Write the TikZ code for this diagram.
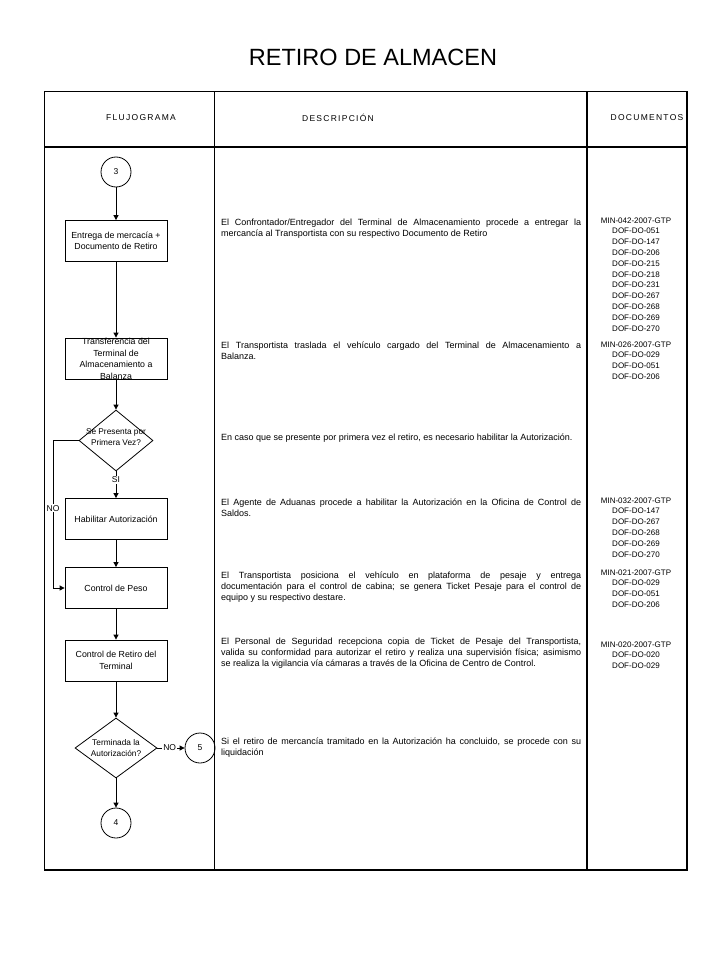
\documentclass[tikz,border=0pt]{standalone}
\usepackage{fontspec}
\setmainfont{Liberation Sans}
\newfontfamily\hdrfont[LetterSpace=15]{Liberation Sans}
\usetikzlibrary{arrows.meta,shapes.geometric}
\newcommand\jl[1]{\makebox[360pt][s]{#1}}
\begin{document}
\begin{tikzpicture}[x=1pt,y=-1pt,
  tbl/.style={line width=1.1pt},
  shp/.style={draw,line width=0.8pt},
  box/.style={shp,rectangle,minimum width=102pt,minimum height=41pt,inner sep=1pt,align=center,font=\fontsize{8.8}{11.6}\selectfont},
  boxtxt/.style={inner sep=0pt,align=center,font=\fontsize{8.8}{11.6}\selectfont},
  circ/.style={shp,circle,minimum size=30pt,inner sep=0pt,font=\fontsize{8.5}{10}\selectfont},
  dia/.style={shp,diamond,inner sep=0pt},
  diatxt/.style={inner sep=0pt,align=center,font=\fontsize{8.3}{11.5}\selectfont},
  arr/.style={line width=0.8pt,-{Triangle[length=5pt,width=5pt]}},
  lbl/.style={fill=white,inner sep=1pt,font=\fontsize{8.5}{10}\selectfont},
  hdr/.style={inner sep=0pt,font=\hdrfont\fontsize{8.5}{10}\selectfont},
  desc/.style={anchor=base west,inner sep=0pt,align=left,font=\fontsize{9}{11}\selectfont},
  docs/.style={anchor=base,inner sep=0pt,align=center,font=\fontsize{8}{10.8}\selectfont}
]
\useasboundingbox (0,0) rectangle (720,960);
\fill[white] (0,0) rectangle (720,960);

% title
\node[inner sep=0pt,font=\fontsize{23.5}{28}\selectfont] (title) at (373,57) {RETIRO DE ALMACEN};

% table
\draw[tbl] (44.5,91.5) rectangle (687,870);
\draw[tbl] (44.5,147) -- (687,147);
\draw[tbl] (214.5,91.5) -- (214.5,870);
\draw[tbl] (587,91.5) -- (587,870);

\node[hdr] (h1) at (141,118) {FLUJOGRAMA};
\node[hdr] (h2) at (338,118) {DESCRIPCIÓN};
\node[hdr] (h3) at (647,118) {DOCUMENTOS};

% flowchart
\node[circ] (c3) at (116,172) {3};
\node[box] (b1) at (116,241) {Entrega de mercacía +\\Documento de Retiro};
\node[box] (b2) at (116,358.5) {};
\node[boxtxt] (b2t) at (116,359) {Transferencia del\\Terminal de\\Almacenamiento a\\Balanza};
\node[dia,minimum width=74pt,minimum height=61pt] (d1) at (116,440.5) {};
\node[diatxt] (d1t) at (116,437) {Se Presenta por\\Primera Vez?};
\node[box] (b3) at (116,519) {Habilitar Autorización};
\node[box] (b4) at (116,588) {Control de Peso};
\node[box] (b5) at (116,660.5) {Control de Retiro del\\Terminal};
\node[dia,minimum width=82pt,minimum height=60pt] (d2) at (116,748) {};
\node[diatxt] (d2t) at (116,748) {Terminada la\\Autorización?};
\node[circ] (c5) at (200,748) {5};
\node[circ] (c4) at (116,823) {4};

\coordinate (n1) at (53,440.5);
\coordinate (n2) at (53,588);

\draw[arr] (c3) -- (b1);
\draw[arr] (b1) -- (b2);
\draw[arr] (b2) -- (d1);
\draw[arr] (d1) -- node[lbl,pos=0.32]{SI} (b3);
\draw[arr] (b3) -- (b4);
\draw[arr] (b4) -- (b5);
\draw[arr] (b5) -- (d2);
\draw[arr] (d2) -- (c4);
\draw[arr] (d2.east) -- node[lbl,pos=0.45]{NO} (c5);
\draw[arr] (d1.west) -- (n1) -- node[lbl,pos=0.46]{NO} (n2) -- (b4.west);

% descriptions (base anchor = last line)
\node[desc] (p1) at (221,236.5) {\jl{El Confrontador/Entregador del Terminal de Almacenamiento procede a entregar la}\\mercancía al Transportista con su respectivo Documento de Retiro};
\node[desc] (p2) at (221,359) {\jl{El Transportista traslada el vehículo cargado del Terminal de Almacenamiento a}\\Balanza.};
\node[desc] (p3) at (221,440) {En caso que se presente por primera vez el retiro, es necesario habilitar la Autorización.};
\node[desc] (p4) at (221,516) {\jl{El Agente de Aduanas procede a habilitar la Autorización en la Oficina de Control de}\\Saldos.};
\node[desc] (p5) at (221,600) {\jl{El Transportista posiciona el vehículo en plataforma de pesaje y entrega}\\\jl{documentación para el control de cabina; se genera Ticket Pesaje para el control de}\\equipo y su respectivo destare.};
\node[desc] (p6) at (221,666) {\jl{El Personal de Seguridad recepciona copia de Ticket de Pesaje del Transportista,}\\\jl{valida su conformidad para autorizar el retiro y realiza una supervisión física; asimismo}\\se realiza la vigilancia vía cámaras a través de la Oficina de Centro de Control.};
\node[desc] (p7) at (221,755) {\jl{Si el retiro de mercancía tramitado en la Autorización ha concluido, se procede con su}\\liquidación};

% documents (base anchor = last line)
\node[docs] (g1) at (636,331) {MIN-042-2007-GTP\\DOF-DO-051\\DOF-DO-147\\DOF-DO-206\\DOF-DO-215\\DOF-DO-218\\DOF-DO-231\\DOF-DO-267\\DOF-DO-268\\DOF-DO-269\\DOF-DO-270};
\node[docs] (g2) at (636,379.4) {MIN-026-2007-GTP\\DOF-DO-029\\DOF-DO-051\\DOF-DO-206};
\node[docs] (g3) at (636,557) {MIN-032-2007-GTP\\DOF-DO-147\\DOF-DO-267\\DOF-DO-268\\DOF-DO-269\\DOF-DO-270};
\node[docs] (g4) at (636,607.4) {MIN-021-2007-GTP\\DOF-DO-029\\DOF-DO-051\\DOF-DO-206};
\node[docs] (g5) at (636,668.6) {MIN-020-2007-GTP\\DOF-DO-020\\DOF-DO-029};
\end{tikzpicture}
\end{document}
